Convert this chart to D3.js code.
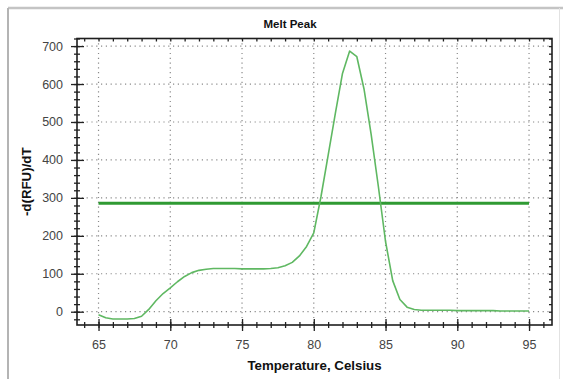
<!DOCTYPE html>
<html lang="en">
<head>
    <meta charset="UTF-8">
    <title>Melt Peak</title>
    <script src="https://cdn.jsdelivr.net/npm/d3@7/dist/d3.min.js"></script>
    <style>
        body { margin: 0; background: #fff; }
        text { font-family: "Liberation Sans", Arial, sans-serif; }
    </style>
</head>
<body>
    <svg width="563" height="379" id="mainsvg"></svg>
    <script>
        // temperature steps (Celsius)
        const temps = [65, 65.5, 66, 66.5, 67, 67.5, 68, 68.5, 69, 69.5,
            70, 70.5, 71, 71.5, 72, 72.5, 73, 73.5, 74, 74.5,
            75, 75.5, 76, 76.5, 77, 77.5, 78, 78.5, 79, 79.5,
            80, 80.5, 81, 81.5, 82, 82.5, 83, 83.5, 84, 84.5,
            85, 85.5, 86, 86.5, 87, 87.5, 88, 88.5, 89, 89.5,
            90, 90.5, 91, 91.5, 92, 92.5, 93, 93.5, 94, 94.5, 95]
        // -d(RFU)/dT
        const peak = [-8, -16, -19, -19, -19, -18, -12, 6, 29, 48,
            63, 79, 93, 103, 109, 112, 114, 114, 114, 114,
            113, 113, 113, 113, 114, 116, 121, 130, 147, 172,
            208, 303, 412, 522, 628, 687, 672, 587, 467, 330,
            185, 82, 32, 12, 6, 4, 4, 4, 4, 4,
            3, 3, 3, 3, 3, 3, 2, 2, 2, 2, 2]
        const threshold = 286
        const thresholdRange = [65, 95]

        const xMajor = [65, 70, 75, 80, 85, 90, 95]
        const xMinor = [64, 65, 66, 67, 68, 69, 70, 71, 72, 73, 74, 75, 76, 77, 78, 79, 80,
            81, 82, 83, 84, 85, 86, 87, 88, 89, 90, 91, 92, 93, 94, 95, 96]
        const yMajor = [0, 100, 200, 300, 400, 500, 600, 700]
        const yMinor = [-20, 0, 20, 40, 60, 80, 100, 120, 140, 160, 180, 200, 220, 240, 260, 280, 300,
            320, 340, 360, 380, 400, 420, 440, 460, 480, 500, 520, 540, 560, 580, 600,
            620, 640, 660, 680, 700, 720]

        const svg = d3.select('#mainsvg')
        const pLeft = 77, pRight = 552, pTop = 38.5, pBottom = 325

        const x = d3.scaleLinear().domain([63.5, 96.6]).range([pLeft, pRight])
        const y = d3.scaleLinear().domain([-35, 720]).range([pBottom, pTop])

        // outer panel border
        svg.append('line').attr('x1', 8).attr('x2', 563).attr('y1', 8).attr('y2', 8)
            .attr('stroke', '#c4c4c4').attr('stroke-width', 2.5)
        svg.append('line').attr('x1', 8).attr('x2', 8).attr('y1', 8).attr('y2', 379)
            .attr('stroke', '#b4b4b4').attr('stroke-width', 2)
        svg.append('line').attr('x1', 559.5).attr('x2', 559.5).attr('y1', 8).attr('y2', 379)
            .attr('stroke', '#e2e2e2').attr('stroke-width', 1)

        // title
        svg.append('text').text('Melt Peak')
            .attr('x', 290).attr('y', 28)
            .attr('text-anchor', 'middle')
            .attr('font-size', '11.5px').attr('font-weight', 'bold').attr('fill', '#111')

        // dotted grid
        const grid = svg.append('g')
        grid.selectAll('.vg').data(xMajor).join('line')
            .attr('x1', d => x(d)).attr('x2', d => x(d))
            .attr('y1', pTop).attr('y2', pBottom)
        grid.selectAll('.hg').data(yMajor).join('line')
            .attr('x1', pLeft).attr('x2', pRight)
            .attr('y1', d => y(d)).attr('y2', d => y(d))
        grid.selectAll('line')
            .attr('stroke', '#8a8a8a').attr('stroke-width', 1.2)
            .attr('stroke-dasharray', '1.2,3.6')

        // ticks: cross the frame on bottom/left, inward on top/right
        const noDomain = g => g.select('.domain').remove()
        const bx = svg.append('g').attr('transform', `translate(0,${pBottom})`)
        bx.append('g').call(d3.axisBottom(x).tickValues(xMinor).tickSize(3).tickFormat('')).call(noDomain)
        bx.append('g').call(d3.axisTop(x).tickValues(xMinor).tickSize(3).tickFormat('')).call(noDomain)
        bx.append('g').call(d3.axisBottom(x).tickValues(xMajor).tickSize(6).tickPadding(9)).call(noDomain)
        bx.append('g').call(d3.axisTop(x).tickValues(xMajor).tickSize(6).tickFormat('')).call(noDomain)

        const ly = svg.append('g').attr('transform', `translate(${pLeft},0)`)
        ly.append('g').call(d3.axisLeft(y).tickValues(yMinor).tickSize(3).tickFormat('')).call(noDomain)
        ly.append('g').call(d3.axisRight(y).tickValues(yMinor).tickSize(3).tickFormat('')).call(noDomain)
        ly.append('g').call(d3.axisLeft(y).tickValues(yMajor).tickSize(6).tickPadding(8)).call(noDomain)
        ly.append('g').call(d3.axisRight(y).tickValues(yMajor).tickSize(7).tickFormat('')).call(noDomain)

        svg.append('g').attr('transform', `translate(0,${pTop})`)
            .call(d3.axisBottom(x).tickValues(xMinor).tickSize(3).tickFormat('')).call(noDomain)
        svg.append('g').attr('transform', `translate(${pRight},0)`)
            .call(d3.axisLeft(y).tickValues(yMinor).tickSize(3).tickFormat('')).call(noDomain)

        svg.selectAll('.tick line').attr('stroke', '#222').attr('stroke-width', 1.3)
        svg.selectAll('.tick text')
            .attr('font-size', '12.5px').attr('fill', '#444')
            .attr('font-family', '"Liberation Sans", Arial, sans-serif')

        // threshold
        svg.append('line')
            .attr('x1', x(thresholdRange[0])).attr('x2', x(thresholdRange[1]))
            .attr('y1', y(threshold)).attr('y2', y(threshold))
            .attr('stroke', '#2f9a33').attr('stroke-width', 3)

        // melt curve
        const line = d3.line()
            .x((d, i) => x(temps[i]))
            .y(d => y(d))
            .curve(d3.curveLinear)
        svg.append('path').datum(peak)
            .attr('d', line)
            .attr('fill', 'none')
            .attr('stroke', '#5fb862').attr('stroke-width', 1.6)
            .attr('stroke-linejoin', 'round')

        // frame
        svg.append('rect')
            .attr('x', pLeft).attr('y', pTop)
            .attr('width', pRight - pLeft).attr('height', pBottom - pTop)
            .attr('fill', 'none').attr('stroke', '#1e1e1e').attr('stroke-width', 1.6)

        // axis titles
        svg.append('text').text('Temperature, Celsius')
            .attr('x', (pLeft + pRight) / 2).attr('y', 370)
            .attr('text-anchor', 'middle')
            .attr('font-size', '13.3px').attr('font-weight', 'bold').attr('fill', '#111')
        svg.append('text').text('-d(RFU)/dT')
            .attr('transform', `translate(31,${(pTop + pBottom) / 2}) rotate(-90)`)
            .attr('text-anchor', 'middle')
            .attr('font-size', '13.3px').attr('font-weight', 'bold').attr('fill', '#111')
    </script>
</body>
</html>
